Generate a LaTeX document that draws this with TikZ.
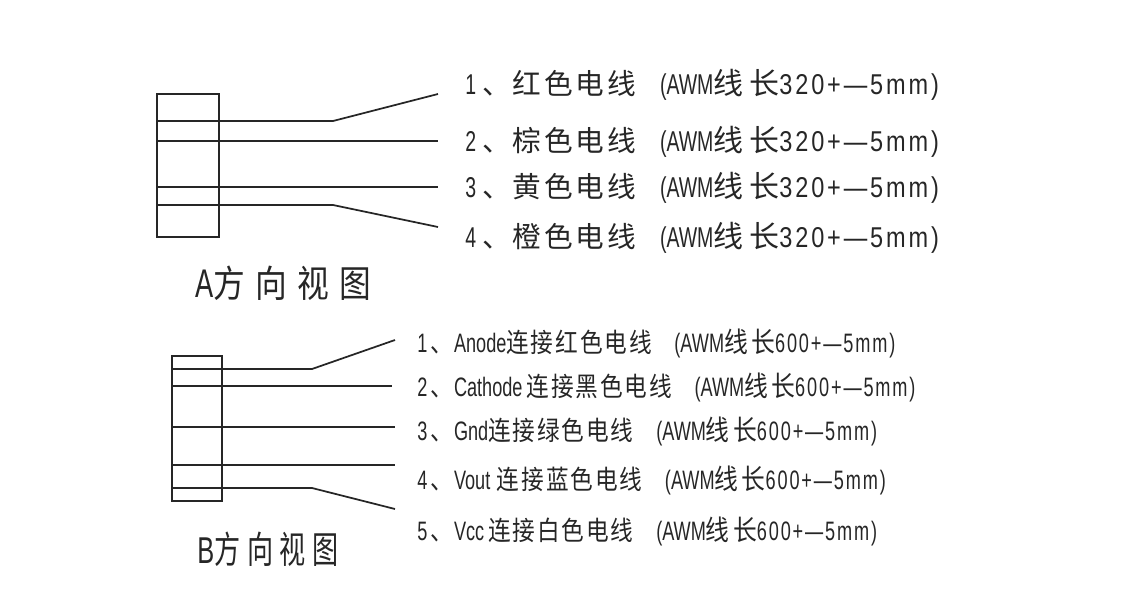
\documentclass[tikz,border=0pt]{standalone}
\usepackage{fontspec}
\newfontfamily\cjkA[LetterSpace=10]{Noto Sans CJK SC}
\newfontfamily\cjkAl[LetterSpace=20]{Noto Sans CJK SC}
\newfontfamily\cjkB[FakeStretch=0.85,LetterSpace=7]{Noto Sans CJK SC}
\newfontfamily\cjkBl[FakeStretch=0.85,LetterSpace=12]{Noto Sans CJK SC}
\newfontfamily\cjkT[FakeStretch=0.85,LetterSpace=28]{Noto Sans CJK SC}
\newfontfamily\cjkTb[FakeStretch=0.7,LetterSpace=18]{Noto Sans CJK SC}
\newfontfamily\latA[FakeStretch=0.68]{Liberation Sans}
\newfontfamily\latAw[FakeStretch=0.82,LetterSpace=10]{Liberation Sans}
\newfontfamily\latB[FakeStretch=0.68]{Liberation Sans}
\newfontfamily\latBw[FakeStretch=0.68,LetterSpace=7]{Liberation Sans}
\newcommand{\rowA}[2]{{\latA #1}\hspace{5pt}、\hspace{1pt}#2\hspace{18pt}{\latA (AWM}{\fontsize{22.5}{24}\cjkAl 线长}{\latAw 320+—5mm)}}
\newcommand{\rowB}[4][0pt]{{\latB #2}\hspace{2pt}、\hspace{1pt}{\latB #3}\hspace{#1}#4\hspace{17pt}{\latB (AWM}{\fontsize{21}{22}\cjkBl 线长}{\latBw 600+—5mm)}}
\tikzset{
  wire/.style={line width=1.3pt, color=black!85},
  plug/.style={draw=black!85, line width=1.3pt, inner sep=0pt},
  rowa/.style={anchor=base west, inner sep=0pt, font=\fontsize{21.5}{22}\cjkA, text=black!85},
  rowb/.style={anchor=base west, inner sep=0pt, font=\fontsize{20}{21}\cjkB, text=black!85},
  viewname/.style={anchor=base west, inner sep=0pt, font=\fontsize{28}{29}\cjkT, text=black!85}
}
\begin{document}
\begin{tikzpicture}[x=0.75pt, y=-0.75pt]
 \useasboundingbox (0,0) rectangle (1121,607);
 % A side
 \node (plugA) [plug, minimum width=46.5pt, minimum height=107.25pt] at (188,165.5) {};
 \coordinate (a1) at (157,121);  \coordinate (a1b) at (333,121);  \coordinate (a1e) at (438,94);
 \coordinate (a2) at (157,141);  \coordinate (a2e) at (438,141);
 \coordinate (a3) at (157,187);  \coordinate (a3e) at (438,187);
 \coordinate (a4) at (157,205);  \coordinate (a4b) at (333,205);  \coordinate (a4e) at (438,227);
 \draw[wire] (a1) -- (a1b) -- (a1e);
 \draw[wire] (a2) -- (a2e);
 \draw[wire] (a3) -- (a3e);
 \draw[wire] (a4) -- (a4b) -- (a4e);
 \node (la1) [rowa] at (465,94)  {\rowA{1}{红色电线}};
 \node (la2) [rowa] at (465,151) {\rowA{2}{棕色电线}};
 \node (la3) [rowa] at (465,197) {\rowA{3}{黄色电线}};
 \node (la4) [rowa] at (465,247) {\rowA{4}{橙色电线}};
 \node (nameA) [viewname] at (195,297) {{\fontsize{30}{31}\latA A}方向视图};
 % B side
 \node (plugB) [plug, minimum width=37.5pt, minimum height=108.75pt] at (197,428.5) {};
 \coordinate (b1) at (172,369);  \coordinate (b1b) at (312,369);  \coordinate (b1e) at (395,340);
 \coordinate (b2) at (172,386);  \coordinate (b2e) at (392,386);
 \coordinate (b3) at (172,427);  \coordinate (b3e) at (395,427);
 \coordinate (b4) at (172,465);  \coordinate (b4e) at (395,465);
 \coordinate (b5) at (172,488);  \coordinate (b5b) at (312,488);  \coordinate (b5e) at (395,509);
 \draw[wire] (b1) -- (b1b) -- (b1e);
 \draw[wire] (b2) -- (b2e);
 \draw[wire] (b3) -- (b3e);
 \draw[wire] (b4) -- (b4e);
 \draw[wire] (b5) -- (b5b) -- (b5e);
 \node (lb1) [rowb] at (417,352) {\rowB{1}{Anode}{连接红色电线}};
 \node (lb2) [rowb] at (417,396) {\rowB[3pt]{2}{Cathode}{连接黑色电线}};
 \node (lb3) [rowb] at (417,440) {\rowB{3}{Gnd}{连接绿色电线}};
 \node (lb4) [rowb] at (417,489) {\rowB[5pt]{4}{Vout}{连接蓝色电线}};
 \node (lb5) [rowb] at (417,540) {\rowB[3pt]{5}{Vcc}{连接白色电线}};
 \node (nameB) [viewname, font=\fontsize{28}{29}\cjkTb] at (197,563) {{\latB B}方向视图};
\end{tikzpicture}
\end{document}
